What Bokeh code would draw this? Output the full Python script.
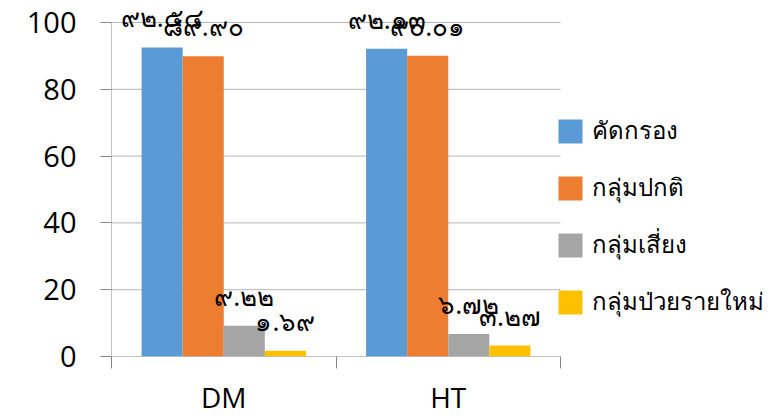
from bokeh.plotting import figure
from bokeh.models import (ColumnDataSource, Range1d, FixedTicker, Legend, LegendItem)
from bokeh.embed import file_html
from bokeh.resources import INLINE

# Data: screening results per disease group
categories = ["DM", "HT"]
series_names = ["คัดกรอง", "กลุ่มปกติ", "กลุ่มเสี่ยง", "กลุ่มป่วยรายใหม่"]
screened = [92.54, 92.13]
normal = [89.90, 90.01]
at_risk = [9.22, 6.72]
new_patients = [1.69, 3.27]
y_ticks = [0, 20, 40, 60, 80, 100]

colors = ["#5B9BD5", "#ED7D31", "#A5A5A5", "#FFC000"]
series_values = [screened, normal, at_risk, new_patients]

THAI_DIGITS = str.maketrans("0123456789", "๐๑๒๓๔๕๖๗๘๙")


def thai_number(v):
    return f"{v:.2f}".translate(THAI_DIGITS)


LATIN_FONT = "Open Sans"
THAI_FONT = "Noto Sans, Open Sans, sans-serif"

# Layout: the bar area is 449 px wide and the value axis 334 px tall; the frame
# continues to the right and top edges so the legend and the value labels fit.
W, H = 772, 418
LEFT, BOTTOM = 111, 62
BAR_AREA_PX = 449
AXIS_TOP_PX = 22
n_cat = len(categories)
y_max = max(y_ticks)
x_end = n_cat * (W - LEFT) / BAR_AREA_PX
y_end = y_max * (H - BOTTOM) / (H - BOTTOM - AXIS_TOP_PX)

p = figure(width=W, height=H, output_backend="svg", toolbar_location=None,
           x_range=Range1d(0, x_end), y_range=Range1d(0, y_end),
           min_border_left=LEFT, min_border_right=0, min_border_top=0,
           min_border_bottom=BOTTOM)
p.outline_line_color = None
p.background_fill_color = "white"
p.border_fill_color = "white"
p.xgrid.grid_line_color = None
p.ygrid.grid_line_color = None

# Horizontal gridlines spanning only the category area (0 line acts as the x axis line)
p.segment(x0=[0] * len(y_ticks), x1=[n_cat] * len(y_ticks), y0=y_ticks, y1=y_ticks,
          line_color=["#868686"] + ["#b5b5b5"] * (len(y_ticks) - 1), line_width=1)
# Value axis line, from 0 to the top tick
p.segment(x0=[0], x1=[0], y0=[0], y1=[y_max], line_color="#868686", line_width=1)

bar_w = 0.183
offsets = [-1.5 * bar_w, -0.5 * bar_w, 0.5 * bar_w, 1.5 * bar_w]
centers = [i + 0.5 for i in range(n_cat)]

legend_items = []
for name, vals, color, off in zip(series_names, series_values, colors, offsets):
    src = ColumnDataSource(dict(
        x=[c + off for c in centers],
        top=vals,
        label=[thai_number(v) for v in vals],
    ))
    r = p.vbar(x="x", top="top", width=bar_w, bottom=0, source=src,
               fill_color=color, line_color=None)
    p.text(x="x", y="top", text="label", source=src, text_align="center",
           text_baseline="bottom", y_offset=-12, text_font_size="26px",
           text_color="black", text_font={"value": THAI_FONT})
    legend_items.append(LegendItem(label=name, renderers=[r]))

# Y axis
p.yaxis.ticker = FixedTicker(ticks=y_ticks)
p.yaxis.axis_line_color = None
p.yaxis.major_tick_line_color = "#868686"
p.yaxis.major_tick_out = 11
p.yaxis.major_tick_in = 0
p.yaxis.minor_tick_line_color = None
p.yaxis.major_label_standoff = 24
p.yaxis.major_label_text_font_size = "29px"
p.yaxis.major_label_text_font = LATIN_FONT
p.yaxis.major_label_text_color = "black"

# X axis: category names centred, boundary ticks between groups
p.xaxis.ticker = FixedTicker(ticks=centers, minor_ticks=list(range(n_cat + 1)))
p.xaxis.major_label_overrides = {c: name for c, name in zip(centers, categories)}
p.xaxis.axis_line_color = None
p.xaxis.major_tick_line_color = None
p.xaxis.major_tick_out = 0
p.xaxis.major_tick_in = 0
p.xaxis.minor_tick_line_color = "#868686"
p.xaxis.minor_tick_out = 12
p.xaxis.minor_tick_in = 0
p.xaxis.major_label_standoff = 9
p.xaxis.major_label_text_font_size = "28px"
p.xaxis.major_label_text_font = LATIN_FONT
p.xaxis.major_label_text_color = "black"

legend = Legend(items=legend_items, location=(444, 35),
                glyph_width=30, glyph_height=30, label_text_font_size="24px",
                label_text_font=THAI_FONT, label_text_color="black",
                spacing=18, padding=8, margin=0, border_line_color=None,
                background_fill_alpha=0, label_standoff=7)
p.add_layout(legend, "center")

open("out.html", "w").write(file_html(p, INLINE))
